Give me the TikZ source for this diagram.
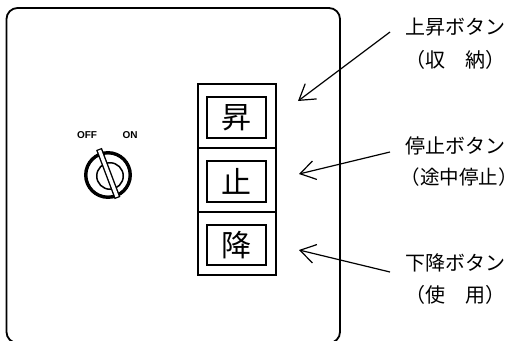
\documentclass[tikz,border=0pt]{standalone}
\usepackage{fontspec}
\usetikzlibrary{arrows.meta}
\newfontfamily\jpfont{Noto Sans CJK JP}
\newfontfamily\keyfont{Liberation Sans}
\begin{document}
\begin{tikzpicture}[x=1pt,y=-1pt,
  outerbtn/.style={draw,line width=1.4pt,minimum width=78pt,minimum height=64pt,inner sep=0pt},
  innerbtn/.style={draw,line width=1.4pt,minimum width=59pt,minimum height=41pt,inner sep=0pt,font=\jpfont\fontsize{30}{30}\selectfont},
  lbl/.style={anchor=west,inner sep=0pt,font=\jpfont\fontsize{20}{20}\selectfont},
  keylbl/.style={inner sep=0pt,font=\keyfont\bfseries\fontsize{10}{10}\selectfont},
  callout/.style={line width=1.2pt,-{Straight Barb[length=15pt,width=19pt,line width=1.2pt]}}]
\useasboundingbox (0,0) rectangle (518,340);
% panel
\draw[line width=1.8pt,rounded corners=11pt] (6.5,8) rectangle (340,343);
% key switch
\node[keylbl] (off) at (87,135) {OFF};
\node[keylbl] (on) at (130,135) {ON};
\node[draw,circle,line width=3.4pt,minimum size=44.5pt,inner sep=0pt] (ring) at (108,175) {};
\node[draw,circle,line width=1.5pt,minimum size=26.5pt,inner sep=0pt] (core) at (110,176) {};
\coordinate (bartop) at (99,149);
\coordinate (barbot) at (117.5,198);
\draw[line width=6.2pt] (bartop) -- (barbot);
\draw[line width=3.4pt,white,shorten <=1.3pt,shorten >=1.3pt] (bartop) -- (barbot);
% buttons
\node[outerbtn] (o1) at (237,116) {};
\node[outerbtn] (o2) at (237,180) {};
\node[outerbtn,minimum height=63pt] (o3) at (237,243.5) {};
\node[innerbtn] (b1) at (236.5,117.5) {昇};
\node[innerbtn] (b2) at (236.5,181.5) {止};
\node[innerbtn,minimum height=40pt] (b3) at (236.5,245) {降};
% labels
\node[lbl] (l1a) at (405,27) {上昇ボタン};
\node[lbl] (l1b) at (405,60) {（収　納）};
\node[lbl] (l2a) at (405,146) {停止ボタン};
\node[lbl,font=\jpfont\fontsize{19.5}{19.5}\selectfont] (l2b) at (400.5,177) {（途中停止）};
\node[lbl] (l3a) at (405,263) {下降ボタン};
\node[lbl] (l3b) at (405,295) {（使　用）};
% callouts
\coordinate (s1) at (390,32);
\coordinate (t1) at (298,101);
\coordinate (s2) at (390,152);
\coordinate (t2) at (299,174);
\coordinate (s3) at (390,272);
\coordinate (t3) at (299,250);
\draw[callout] (s1) -- (t1);
\draw[callout] (s2) -- (t2);
\draw[callout] (s3) -- (t3);
\end{tikzpicture}
\end{document}
